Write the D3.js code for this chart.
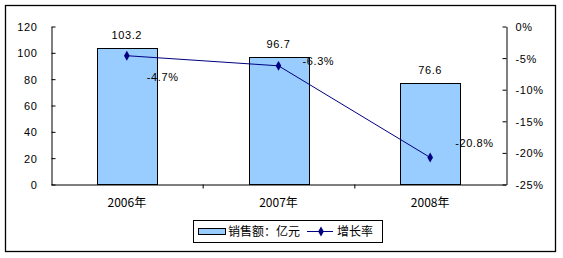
<!DOCTYPE html>
<html>
<head>
<meta charset="utf-8">
<script src="https://cdn.jsdelivr.net/npm/d3@7"></script>
<style>
  body { margin: 0; background: #fff; }
  svg text { font-family: "Liberation Sans", Arial, sans-serif; font-size: 11px; letter-spacing: 0.6px; fill: #000; }
  svg text.cjk { font-family: "Noto Sans CJK SC", sans-serif; font-size: 12px; letter-spacing: 0; }
</style>
</head>
<body>
<svg id="chart" width="563" height="258"></svg>
<script>
// Data
const years = ["2006年", "2007年", "2008年"];
const sales = [103.2, 96.7, 76.6];
const growth = [-4.7, -6.3, -20.8];
const leftTicks = [0, 20, 40, 60, 80, 100, 120];
const rightTicks = [0, -5, -10, -15, -20, -25];
const legendNames = ["销售额：亿元", "增长率"];

const svg = d3.select("#chart");

// frame
svg.append("rect")
  .attr("x", 5.5).attr("y", 5.5)
  .attr("width", 550).attr("height", 246)
  .attr("fill", "none").attr("stroke", "#000").attr("stroke-width", 1.3);

const plotL = 51, plotR = 506, plotT = 26, plotB = 184;

// Scales
const x = d3.scaleBand().domain(years).range([plotL, plotR]).paddingInner(0).paddingOuter(0);
const xTicks = d3.scaleLinear().domain([0, years.length]).range([plotL, plotR]);
const y = d3.scaleLinear().domain([0, 120]).range([plotB, plotT]);
const y2 = d3.scaleLinear().domain([-25, 0]).range([plotB, plotT]);

const barW = x.bandwidth() * 0.395;

// Bars
svg.selectAll("rect.bar")
  .data(sales)
  .enter()
  .append("rect")
  .classed("bar", true)
  .attr("x", (d, i) => Math.round(x(years[i]) + x.bandwidth() / 2 - barW / 2) + 0.5)
  .attr("y", (d) => Math.round(y(d)) + 0.5)
  .attr("width", Math.round(barW))
  .attr("height", (d) => Math.round(plotB) - Math.round(y(d)))
  .attr("fill", "#99ccff")
  .attr("stroke", "#000")
  .attr("stroke-width", 1);

// Bar labels
svg.selectAll("text.bar-label")
  .data(sales)
  .enter()
  .append("text")
  .classed("bar-label", true)
  .attr("x", (d, i) => x(years[i]) + x.bandwidth() / 2)
  .attr("y", (d) => y(d) - 9)
  .attr("text-anchor", "middle")
  .text((d) => d.toFixed(1));

// Axes
const axisL = svg.append("g")
  .attr("transform", `translate(${plotL + 0.5},0.5)`)
  .call(d3.axisLeft(y).tickValues(leftTicks).tickSize(-4).tickSizeOuter(0).tickPadding(14));

const axisR = svg.append("g")
  .attr("transform", `translate(${plotR + 0.5},0.5)`)
  .call(d3.axisRight(y2).tickValues(rightTicks).tickSize(-4).tickSizeOuter(0).tickPadding(9)
    .tickFormat((d) => d + "%"));

const axisB = svg.append("g")
  .attr("transform", `translate(0,${plotB + 0.5})`)
  .call(d3.axisBottom(xTicks).tickValues([1, 2]).tickSize(4).tickSizeOuter(0).tickFormat(""));

[axisL, axisR, axisB].forEach((g) => {
  g.selectAll("path, line").attr("stroke", "#000");
  g.selectAll("text").attr("font-family", null).attr("font-size", null).attr("fill", "#000");
});
axisL.selectAll("text").attr("dy", "0.36em");
axisR.selectAll("text").attr("dy", "0.36em");

// Category labels
svg.selectAll("text.cat")
  .data(years)
  .enter()
  .append("text")
  .classed("cjk", true)
  .attr("x", (d) => x(d) + x.bandwidth() / 2)
  .attr("y", 207)
  .attr("text-anchor", "middle")
  .text((d) => d);

// Growth line
const cx = (i) => x(years[i]) + x.bandwidth() / 2;
const line = d3.line()
  .x((d, i) => cx(i))
  .y((d) => y2(d));

svg.append("path")
  .datum(growth)
  .attr("d", line)
  .attr("fill", "none")
  .attr("stroke", "#000080")
  .attr("stroke-width", 1);

const diamond = d3.symbol().type(d3.symbolDiamond).size(28);
svg.selectAll("path.marker")
  .data(growth)
  .enter()
  .append("path")
  .classed("marker", true)
  .attr("d", diamond)
  .attr("transform", (d, i) => `translate(${cx(i)},${y2(d)})`)
  .attr("fill", "#000080");

// label offsets (moved by hand in the original)
const labelShift = [[20, 21], [24, -5], [25, -14.5]];
svg.selectAll("text.growth-label")
  .data(growth)
  .enter()
  .append("text")
  .classed("growth-label", true)
  .attr("x", (d, i) => cx(i) + labelShift[i][0])
  .attr("y", (d, i) => y2(d) + labelShift[i][1])
  .attr("dy", "0.36em")
  .text((d) => d + "%");

// Legend
const legend = svg.append("g");
legend.append("rect")
  .attr("x", 193.5).attr("y", 220.5)
  .attr("width", 189).attr("height", 22)
  .attr("fill", "#fff").attr("stroke", "#000");
legend.append("rect")
  .attr("x", 198.5).attr("y", 228.5)
  .attr("width", 27).attr("height", 6)
  .attr("fill", "#99ccff").attr("stroke", "#000");
legend.append("text")
  .classed("cjk", true)
  .attr("x", 228).attr("y", 232)
  .attr("dy", "0.36em")
  .text(legendNames[0]);
legend.append("line")
  .attr("x1", 307).attr("x2", 333)
  .attr("y1", 231.5).attr("y2", 231.5)
  .attr("stroke", "#000080");
legend.append("path")
  .attr("d", diamond)
  .attr("transform", "translate(321,231.5)")
  .attr("fill", "#000080");
legend.append("text")
  .classed("cjk", true)
  .attr("x", 337).attr("y", 232)
  .attr("dy", "0.36em")
  .text(legendNames[1]);
</script>
</body>
</html>
